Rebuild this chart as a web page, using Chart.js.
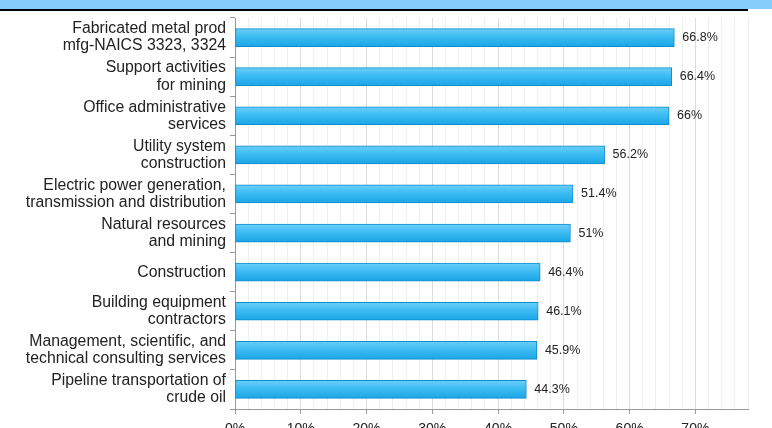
<!DOCTYPE html>
<html>
<head>
<meta charset="utf-8">
<script src="https://cdn.jsdelivr.net/npm/chart.js@4.4.1/dist/chart.umd.min.js"></script>
<style>
  html, body { margin: 0; padding: 0; background: #fff; overflow: hidden; }
  #wrap { position: relative; width: 772px; height: 428px; }
  #band { position: absolute; left: 0; top: 0; width: 772px; height: 9px; background: #87cdfa; }
  #rule { position: absolute; left: 0; top: 9px; width: 748px; height: 2px; background: #000; }
  canvas { position: absolute; left: 0; top: 0; }
</style>
</head>
<body>
<div id="wrap">
  <canvas id="chart" width="772" height="428"></canvas>
  <div id="band"></div>
  <div id="rule"></div>
</div>
<script>
// ── Data ─────────────────────────────────────────────────
const industries = [
    ['Fabricated metal prod', 'mfg-NAICS 3323, 3324'],
    ['Support activities', 'for mining'],
    ['Office administrative', 'services'],
    ['Utility system', 'construction'],
    ['Electric power generation,', 'transmission and distribution'],
    ['Natural resources', 'and mining'],
    'Construction',
    ['Building equipment', 'contractors'],
    ['Management, scientific, and', 'technical consulting services'],
    ['Pipeline transportation of', 'crude oil'],
];
const shares = [66.8, 66.4, 66, 56.2, 51.4, 51, 46.4, 46.1, 45.9, 44.3];
const valueLabels = ['66.8%', '66.4%', '66%', '56.2%', '51.4%', '51%', '46.4%', '46.1%', '45.9%', '44.3%'];

const FONT = "'Liberation Sans', Arial, sans-serif";

function barGradient(ctx) {
    const chart = ctx.chart;
    const ys = chart.scales && chart.scales.y;
    if (!ys || !chart.chartArea || ctx.dataIndex === undefined) return '#35b9f2';
    const c = ys.getPixelForValue(ctx.dataIndex);
    const g = chart.ctx.createLinearGradient(0, c - 9, 0, c + 9);
    g.addColorStop(0, '#6ccff9');
    g.addColorStop(0.45, '#3dbcf3');
    g.addColorStop(1, '#1aa5e6');
    return g;
}

// value labels to the right of each bar
const valueLabelPlugin = {
    id: 'valueLabels',
    afterDatasetsDraw(chart) {
        const { ctx } = chart;
        const meta = chart.getDatasetMeta(0);
        ctx.save();
        ctx.font = `12.5px ${FONT}`;
        ctx.fillStyle = '#222';
        ctx.textBaseline = 'middle';
        meta.data.forEach((bar, i) => {
            ctx.fillText(valueLabels[i], bar.x + 8, bar.y);
        });
        ctx.restore();
    },
};

new Chart(document.getElementById('chart').getContext('2d'), {
    type: 'bar',
    data: {
        labels: industries,
        datasets: [{
            data: shares,
            backgroundColor: barGradient,
            borderColor: '#0f8ccd',
            borderWidth: 1,
            borderSkipped: false,
            barThickness: 18,
        }],
    },
    options: {
        indexAxis: 'y',
        responsive: false,
        animation: false,
        layout: { padding: { left: 0, right: 24, top: 18, bottom: 0 } },
        plugins: {
            legend: { display: false },
            tooltip: { enabled: false },
        },
        scales: {
            x: {
                min: 0,
                max: 78,
                afterFit(scale) {
                    scale.height = 19;
                    scale.paddingLeft = 0;
                    scale.paddingRight = 0;
                },
                border: { color: '#999', width: 1 },
                grid: {
                    color: c => (c.tick && c.tick.value % 10 === 0) ? '#dcdcdc' : '#efefef',
                    tickColor: c => (c.tick && c.tick.value % 10 === 0) ? '#999' : 'rgba(0,0,0,0)',
                    tickLength: 5,
                },
                ticks: {
                    stepSize: 2,
                    autoSkip: false,
                    maxRotation: 0,
                    padding: 7,
                    color: '#222',
                    font: { family: FONT, size: 14 },
                    callback: v => v % 10 === 0 ? v + '%' : '',
                },
            },
            y: {
                afterFit(scale) {
                    scale.width = 235;
                    scale.paddingTop = 0;
                    scale.paddingBottom = 0;
                },
                border: { color: '#999', width: 1 },
                grid: { drawOnChartArea: false, offset: true, tickLength: 5, color: '#999' },
                ticks: {
                    padding: 4,
                    color: '#222',
                    font: { family: FONT, size: 15.8, lineHeight: 1.08 },
                },
            },
        },
    },
    plugins: [valueLabelPlugin],
});
</script>
</body>
</html>
